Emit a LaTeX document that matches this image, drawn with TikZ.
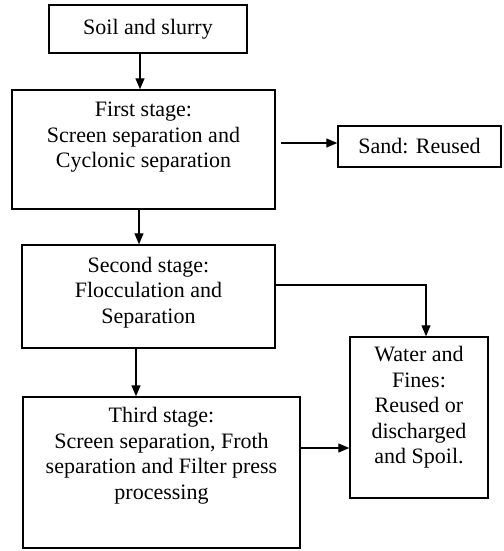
\documentclass[tikz,border=0pt]{standalone}
\usepackage{fontspec}
\setmainfont{Liberation Serif}
\usetikzlibrary{arrows.meta}

\begin{document}
\begin{tikzpicture}[x=1pt,y=-1pt,
        box/.style = {draw, line width=1.4pt, rectangle, inner sep=0pt},
        txt/.style = {align=center, inner sep=0pt, font=\fontsize{22}{25.5}\selectfont},
        flow/.style = {line width=1.3pt, -{Triangle[length=11pt,width=9pt]}}]
        \useasboundingbox (0,0) rectangle (503,551);
        \node[box, minimum width=198pt, minimum height=48pt] (soil) at (148,29) {};
        \node[box, minimum width=263pt, minimum height=119pt] (first) at (143.5,149.5) {};
        \node[box, minimum width=163pt, minimum height=41pt] (sand) at (419.5,146.5) {};
        \node[box, minimum width=253pt, minimum height=103pt] (second) at (148.5,296.5) {};
        \node[box, minimum width=138pt, minimum height=161pt] (water) at (419,417.5) {};
        \node[box, minimum width=277pt, minimum height=151pt] (third) at (161.5,472.5) {};
        % texts
        \node[txt] (soiltxt) at (soil.center) {Soil and slurry};
        \node[txt] (firsttxt) at ([yshift=12pt]first.center) {First stage:\\Screen separation and\\Cyclonic separation};
        \node[txt] (sandtxt) at (sand.center) {Sand: Reused};
        \node[txt] (secondtxt) at ([yshift=4pt]second.center) {Second stage:\\Flocculation and\\Separation};
        \node[txt] (watertxt) at ([yshift=10pt]water.center) {Water and\\Fines:\\Reused or\\discharged\\and Spoil.};
        \node[txt] (thirdtxt) at ([yshift=17pt]third.center) {Third stage:\\Screen separation, Froth\\separation and Filter press\\processing};
        % arrows
        \draw[flow] ([xshift=-8pt]soil.south) -- ([xshift=-8pt]soil.south |- first.north);
        \draw[flow] ([xshift=-4.5pt]first.south) -- ([xshift=-4.5pt]first.south |- second.north);
        \draw[flow] ([xshift=-12.5pt]second.south) -- ([xshift=-12.5pt]second.south |- third.north);
        \draw[flow, shorten <=5pt] ([yshift=6.5pt]first.east) -- ([yshift=6.5pt]first.east -| sand.west);
        \draw[flow] ([yshift=11.5pt]second.east) -| ([xshift=7pt]water.north);
        \draw[flow] ([yshift=24.5pt]third.east) -- ([yshift=24.5pt]third.east -| water.west);
\end{tikzpicture}
\end{document}
